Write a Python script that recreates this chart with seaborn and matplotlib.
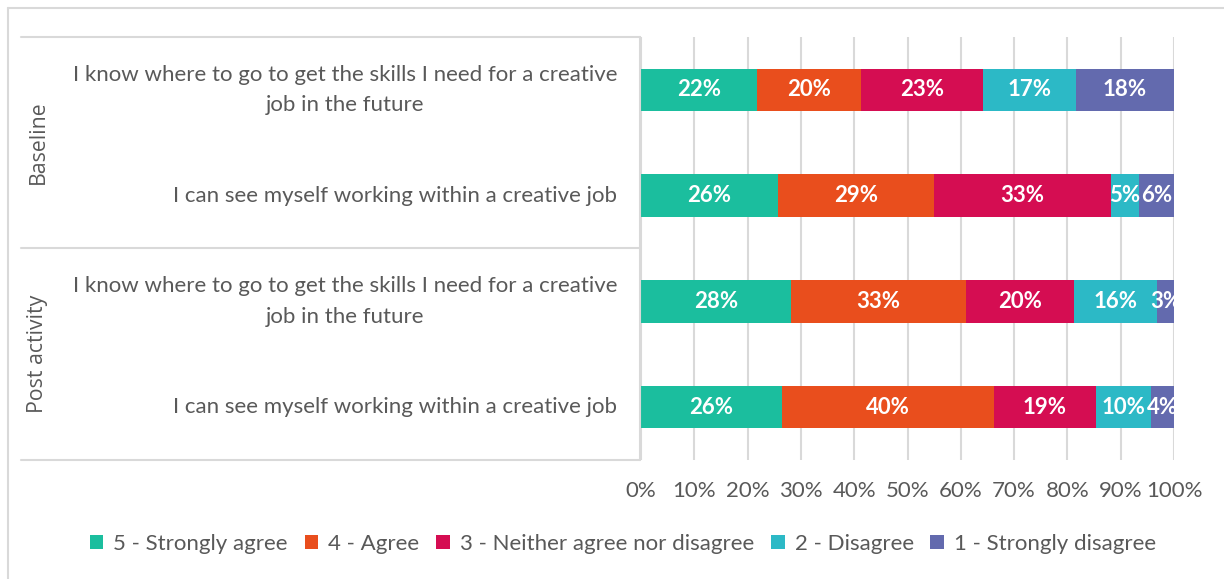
import numpy as np
import pandas as pd
import seaborn as sns
import matplotlib.pyplot as plt
from matplotlib.lines import Line2D
from matplotlib.patches import Patch

# ---- data -------------------------------------------------------------
row_keys = ["b_skills", "b_see", "p_skills", "p_see"]
row_labels = [
    "I know where to go to get the skills I need for a creative\njob in the future",
    "I can see myself working within a creative job",
    "I know where to go to get the skills I need for a creative\njob in the future",
    "I can see myself working within a creative job",
]
groups = ["Baseline", "Post activity"]
levels = ["5 - Strongly agree", "4 - Agree", "3 - Neither agree nor disagree",
          "2 - Disagree", "1 - Strongly disagree"]
strongly_agree = [21.8, 25.7, 28.1, 26.4]
agree = [19.5, 29.2, 32.9, 39.8]
neither = [22.9, 33.2, 20.2, 19.1]
disagree = [17.4, 5.4, 15.7, 10.3]
strongly_disagree = [18.4, 6.5, 3.1, 4.4]
tick_values = [0, 10, 20, 30, 40, 50, 60, 70, 80, 90, 100]

colors = ["#1BBE9E", "#E94E1D", "#D50D52", "#2CB9C6", "#636AAE"]
text_grey = "#595959"
line_grey = "#D9D9D9"

# ---- styling ----------------------------------------------------------
sns.set_theme(style="white")
plt.rcParams["font.family"] = ["Lato", "DejaVu Sans"]

W, H = 1224, 579
fig = plt.figure(figsize=(W / 100, H / 100), dpi=100)
fig.patch.set_facecolor("white")
ax = fig.add_axes([641 / W, 1 - 460 / H, (1174 - 641) / W, (460 - 37) / H])

df = pd.DataFrame({"row": row_keys})
series = [strongly_agree, agree, neither, disagree, strongly_disagree]
cum = np.cumsum(np.array(series), axis=0)
for i, lvl in enumerate(levels):
    df[lvl] = series[i]
    df["cum_" + str(i)] = cum[i]

# stacked bars: draw cumulative totals from the widest down
for i in reversed(range(len(levels))):
    sns.barplot(data=df, x="cum_" + str(i), y="row", order=row_keys,
                color=colors[i], saturation=1, width=0.4, errorbar=None,
                orient="h", ax=ax, linewidth=0, zorder=2)

# segment value labels
for i in range(len(levels)):
    for r in range(len(row_keys)):
        v = series[i][r]
        ax.text(cum[i][r] - v / 2, r, f"{v:.0f}%", ha="center", va="center",
                color="white", fontsize=16, fontweight="bold", zorder=3)

ax.set_xlim(0, 100)
ax.set_ylim(3.5, -0.5)
ax.tick_params(axis="y", length=0, pad=17, labelsize=16, labelcolor=text_grey)
ax.tick_params(axis="x", length=0, pad=15, labelsize=16, labelcolor=text_grey)
ax.set_xticks(tick_values)
ax.set_xticklabels([f"{t}%" for t in tick_values])
ax.set_yticks(range(len(row_keys)))
ax.set_yticklabels(row_labels, multialignment="center", linespacing=1.65,
                   va="center")
ax.set_xlabel("")
ax.set_ylabel("")
ax.grid(axis="x", color=line_grey, linewidth=1.5, zorder=0)
ax.grid(axis="y", visible=False)
ax.set_axisbelow(True)
for s in ax.spines.values():
    s.set_visible(False)

# grouped category axis frame
def fline(x0, y0, x1, y1, lw=1.5):
    fig.add_artist(Line2D([x0 / W, x1 / W], [1 - y0 / H, 1 - y1 / H],
                          transform=fig.transFigure, color=line_grey, lw=lw))

for y in (37, 248, 460):
    fline(21, y, 640, y)
fline(640, 37, 640, 460)

for name, yc in zip(groups, (142, 354)):
    fig.text(38 / W, 1 - yc / H, name, rotation=90, ha="center", va="center",
             fontsize=15.3, color=text_grey, family=["Open Sans", "DejaVu Sans"])

# chart border
fline(8, 8, W, 8)
fline(8, 8, 8, H)

# legend
handles = [Patch(facecolor=c, edgecolor="none") for c in colors]
leg = fig.legend(handles, levels, loc="center", bbox_to_anchor=(623 / W, 1 - 544 / H),
                 ncol=5, frameon=False, fontsize=16, handlelength=0.62,
                 handleheight=0.62, handletextpad=0.45, columnspacing=0.75)
for t in leg.get_texts():
    t.set_color(text_grey)

fig.savefig("out.png", dpi=100, facecolor="white")
